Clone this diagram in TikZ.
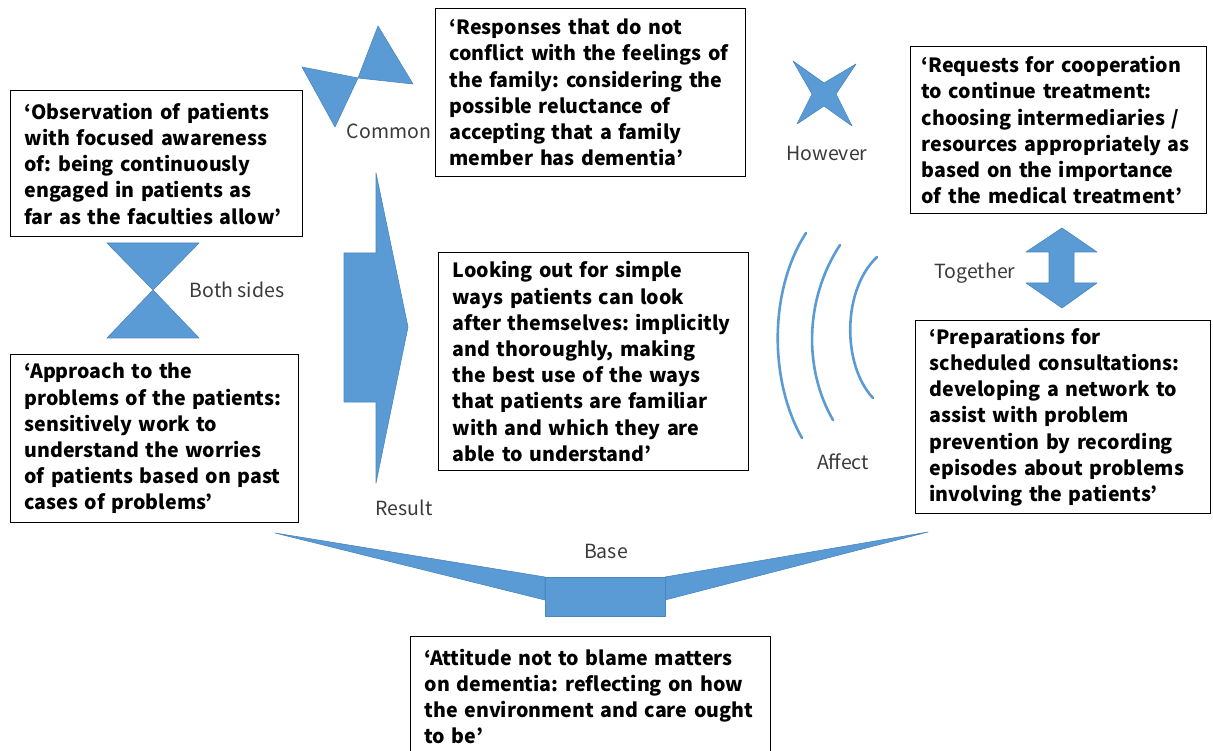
\documentclass[tikz,border=0pt]{standalone}
\usepackage{fontspec}
\newfontfamily\jfont{Noto Sans CJK JP}
\frenchspacing
\definecolor{shapeblue}{HTML}{5B9BD5}
\definecolor{shapeedge}{HTML}{4A86C0}
\definecolor{labelgray}{HTML}{3A3A3A}
\tikzset{
  quotebox/.style={draw=black, line width=1.2pt, fill=white, anchor=north west,
    inner xsep=14pt, inner ysep=0pt, align=left,
    font=\jfont\bfseries\fontsize{19.6}{26.2}\selectfont},
  shp/.style={fill=shapeblue, draw=shapeedge, line width=0.6pt, line join=round},
  arcline/.style={draw=shapeblue, line width=2.6pt, line cap=round},
  lbl/.style={text=labelgray, font=\jfont\fontsize{19.5}{22}\selectfont, inner sep=0pt}
}
\begin{document}
\begin{tikzpicture}[x=1pt,y=-1pt]
\clip (0,0) rectangle (1213,751);
\fill[white] (0,0) rectangle (1213,751);

% ---- shapes ----
% bowtie (Common)
\path[shp] (302,67) -- (358,78) -- (335,127) -- cycle;
\path[shp] (358,78) -- (378,26) -- (413,84) -- cycle;
% four-point star (However)
\path[shp] (793,61) -- (824,83) -- (856,64) -- (836,94) -- (852,126) -- (824,106) -- (797,124) -- (812,94) -- cycle;
% hourglass (Both sides)
\path[shp] (107,243) -- (199,243) -- (153,290) -- (199,338) -- (107,338) -- (153,290) -- cycle;
% result arrow
\path[shp] (344,253) -- (376,253) -- (376,173) -- (408,327) -- (376,483) -- (376,402) -- (344,402) -- cycle;
% arcs (Affect)
\draw[arcline] (806,233) .. controls (769,290) and (769,380) .. (802,438);
\draw[arcline] (840,245) .. controls (804,300) and (804,370) .. (833,420);
\draw[arcline] (877,257) .. controls (842,290) and (842,365) .. (873,398);
% double arrow (Together)
\path[shp] (1062,228) -- (1097,252) -- (1074,252) -- (1074,283) -- (1097,283) -- (1062,308)
  -- (1026,283) -- (1049,283) -- (1049,252) -- (1026,252) -- cycle;
% base
\path[shp] (275,533) -- (545,577) -- (545,600) -- cycle;
\path[shp] (928,532) -- (665,577) -- (665,600) -- cycle;
\path[shp] (545,577) rectangle (665,616);

% ---- labels ----
\node[lbl] (common) at (389,131) {Common};
\node[lbl] (however) at (827,153) {However};
\node[lbl] (both) at (237,290) {Both sides};
\node[lbl] (result) at (404,508) {Result};
\node[lbl] (affect) at (843,462) {Affect};
\node[lbl] (together) at (975,273) {Together};
\node[lbl] (base) at (606,551) {Base};

% ---- boxes ----
\node[quotebox, minimum width=292pt, minimum height=146pt, text width=264pt] (obs) at (10,90)
 {‘Observation of patients\\with focused awareness\\of: being continuously\\engaged in patients as\\far as the faculties allow’};
\node[quotebox, minimum width=288pt, minimum height=168pt, text width=260pt] (appr) at (10,354)
 {‘Approach to the\\problems of the patients:\\sensitively work to\\understand the worries\\of patients based on past\\cases of problems’};
\node[quotebox, minimum width=310pt, minimum height=168pt, text width=282pt] (resp) at (435,8)
 {‘Responses that do not\\conflict with the feelings of\\the family: considering the\\possible reluctance of\\accepting that a family\\member has dementia’};
\node[quotebox, minimum width=310pt, minimum height=218pt, text width=282pt] (look) at (438,252)
 {Looking out for simple\\ways patients can look\\after themselves: implicitly\\and thoroughly, making\\the best use of the ways\\that patients are familiar\\with and which they are\\able to understand’};
\node[quotebox, inner xsep=11pt, minimum width=296pt, minimum height=167pt, text width=274pt] (req) at (910,46)
 {‘Requests for cooperation\\to continue treatment:\\choosing intermediaries /\\resources appropriately as\\based on the importance\\of the medical treatment’};
\node[quotebox, minimum width=295pt, minimum height=193pt, text width=267pt] (prep) at (915,320)
 {‘Preparations for\\scheduled consultations:\\developing a network to\\assist with problem\\prevention by recording\\episodes about problems\\involving the patients’};
\node[quotebox, minimum width=360pt, minimum height=120pt, text width=332pt] (att) at (410,636)
 {‘Attitude not to blame matters\\on dementia: reflecting on how\\the environment and care ought\\to be’};
\end{tikzpicture}
\end{document}
